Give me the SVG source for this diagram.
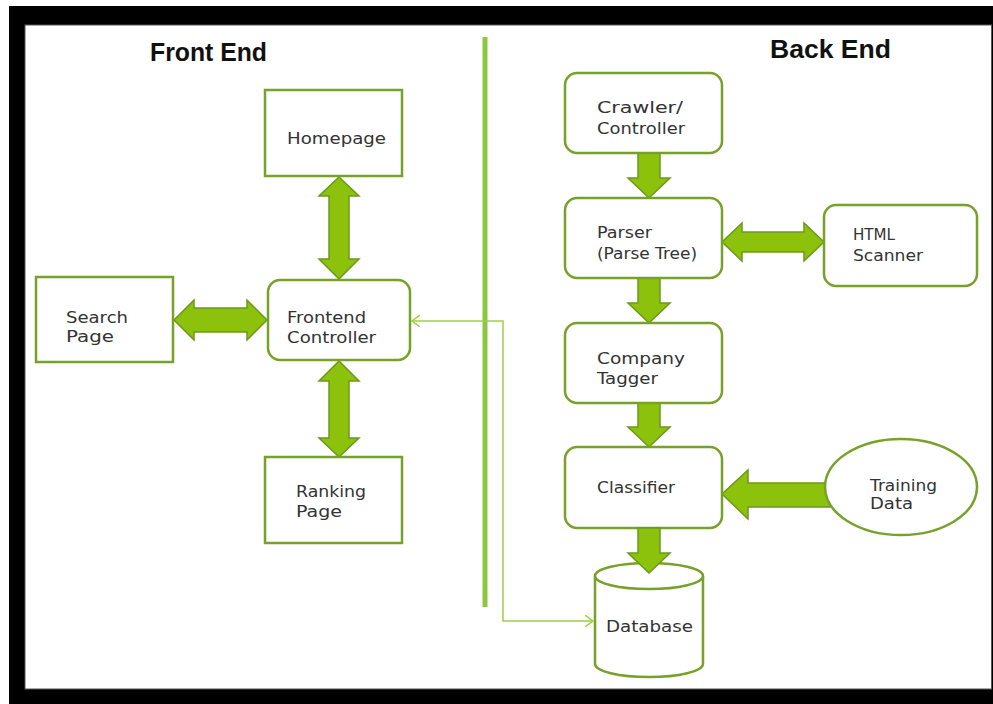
<svg xmlns="http://www.w3.org/2000/svg" width="993" height="704" viewBox="0 0 993 704">
<style>
.node{fill:#fff;stroke:#77a22a;stroke-width:2.5}
.lbl{font-family:"DejaVu Sans","Liberation Sans",sans-serif;font-size:16px;fill:#333}
.title{font-family:"Liberation Sans",Arial,sans-serif;font-weight:bold;font-size:25px;fill:#111}
.big{fill:#8cc10c;stroke:#6c981c;stroke-width:1.5;stroke-linejoin:miter}
.thin{fill:none;stroke:#9fd043;stroke-width:1.5}
</style>
<defs>
<marker id="chev" markerWidth="10" markerHeight="12" refX="8" refY="6" orient="auto-start-reverse" markerUnits="userSpaceOnUse">
<path d="M0,0 L8,6 L0,12" fill="none" stroke="#9fd043" stroke-width="1.5"/>
</marker>
</defs>
<rect x="0" y="0" width="993" height="704" fill="#fff"/>
<rect x="9" y="6" width="984" height="698" fill="#000"/>
<rect x="25" y="25" width="966.5" height="664" fill="#fff" stroke="#555" stroke-width="1"/>

<text class="title" x="150" y="61" textLength="117" lengthAdjust="spacingAndGlyphs">Front End</text>
<text class="title" x="770" y="58" textLength="121" lengthAdjust="spacingAndGlyphs">Back End</text>
<line x1="485" y1="37" x2="485" y2="607" stroke="#8dc63f" stroke-width="5"/>

<g id="connectors">
<polyline class="thin" points="412,321 503,321 503,621 593,621" marker-start="url(#chev)" marker-end="url(#chev)"/>
<path class="big" d="M339,177 L359,196 L349,196 L349,259 L359,259 L339,279 L319,259 L329,259 L329,196 L319,196 Z"/>
<path class="big" d="M339,361 L359,381 L349,381 L349,438 L359,438 L339,457 L319,438 L329,438 L329,381 L319,381 Z"/>
<path class="big" d="M174,320 L194,300 L194,308 L247,308 L247,300 L267,320 L247,340 L247,332 L194,332 L194,340 Z"/>
<path class="big" d="M722,242 L742,223 L742,232 L804,232 L804,223 L824,242 L804,261 L804,252 L742,252 L742,261 Z"/>
<path class="big" d="M638,153 L660,153 L660,178 L670,178 L649,198 L628,178 L638,178 Z"/>
<path class="big" d="M638,278 L660,278 L660,303 L670,303 L649,323 L628,303 L638,303 Z"/>
<path class="big" d="M638,403 L660,403 L660,427 L670,427 L649,447 L628,427 L638,427 Z"/>
<path class="big" d="M722,494 L748,470 L748,483 L830,483 L830,507 L748,507 L748,519 Z"/>
</g>

<g id="homepage"><rect class="node" x="265" y="90" width="137" height="86"/><text class="lbl" x="287" y="144" textLength="99" lengthAdjust="spacingAndGlyphs">Homepage</text></g>
<g id="frontend-controller"><rect class="node" x="268" y="280" width="142" height="80" rx="12"/><text class="lbl" x="287" y="323" textLength="79" lengthAdjust="spacingAndGlyphs">Frontend</text><text class="lbl" x="287" y="343" textLength="89" lengthAdjust="spacingAndGlyphs">Controller</text></g>
<g id="search-page"><rect class="node" x="36" y="277" width="137" height="85"/><text class="lbl" x="66" y="323" textLength="62" lengthAdjust="spacingAndGlyphs">Search</text><text class="lbl" x="66" y="342" textLength="48" lengthAdjust="spacingAndGlyphs">Page</text></g>
<g id="ranking-page"><rect class="node" x="265" y="457" width="137" height="86"/><text class="lbl" x="296" y="497" textLength="70" lengthAdjust="spacingAndGlyphs">Ranking</text><text class="lbl" x="296" y="517" textLength="46" lengthAdjust="spacingAndGlyphs">Page</text></g>

<g id="crawler"><rect class="node" x="565" y="73" width="157" height="80" rx="12"/><text class="lbl" x="597" y="113" textLength="86" lengthAdjust="spacingAndGlyphs">Crawler/</text><text class="lbl" x="597" y="134" textLength="88" lengthAdjust="spacingAndGlyphs">Controller</text></g>
<g id="parser"><rect class="node" x="565" y="198" width="157" height="80" rx="12"/><text class="lbl" x="597" y="238" textLength="55" lengthAdjust="spacingAndGlyphs">Parser</text><text class="lbl" x="597" y="259" textLength="100" lengthAdjust="spacingAndGlyphs">(Parse Tree)</text></g>
<g id="html-scanner"><rect class="node" x="824" y="205" width="153" height="81" rx="12"/><text class="lbl" x="853" y="240" textLength="42" lengthAdjust="spacingAndGlyphs">HTML</text><text class="lbl" x="853" y="261" textLength="70" lengthAdjust="spacingAndGlyphs">Scanner</text></g>
<g id="company-tagger"><rect class="node" x="565" y="323" width="157" height="80" rx="12"/><text class="lbl" x="597" y="364" textLength="88" lengthAdjust="spacingAndGlyphs">Company</text><text class="lbl" x="597" y="384" textLength="61" lengthAdjust="spacingAndGlyphs">Tagger</text></g>
<g id="classifier"><rect class="node" x="565" y="447" width="157" height="81" rx="12"/><text class="lbl" x="597" y="493" textLength="78" lengthAdjust="spacingAndGlyphs">Classifier</text></g>
<g id="training-data"><ellipse class="node" cx="901" cy="487" rx="76" ry="48"/><text class="lbl" x="870" y="491" textLength="67" lengthAdjust="spacingAndGlyphs">Training</text><text class="lbl" x="870" y="509" textLength="43" lengthAdjust="spacingAndGlyphs">Data</text></g>
<g id="database"><path class="node" d="M595,576 L595,664 A54,13 0 0 0 703,664 L703,576"/><ellipse class="node" cx="649" cy="576" rx="54" ry="13"/><text class="lbl" x="606" y="632" textLength="87" lengthAdjust="spacingAndGlyphs">Database</text></g>
<g id="arrow-db"><path class="big" d="M638,528 L660,528 L660,553 L670,553 L649,573 L628,553 L638,553 Z"/></g>
</svg>
